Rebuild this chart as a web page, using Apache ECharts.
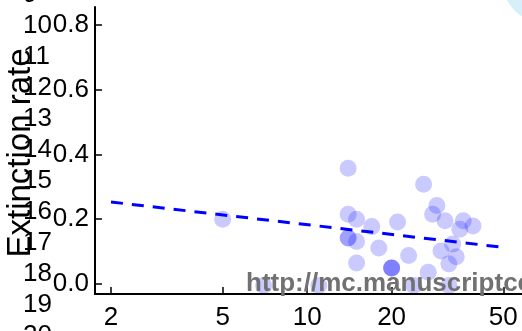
<!DOCTYPE html>
<html>
<head>
<meta charset="utf-8">
<script src="https://cdn.jsdelivr.net/npm/echarts@6/dist/echarts.min.js"></script>
<style>
  html, body { margin: 0; padding: 0; background: #fff; }
  #main { width: 522px; height: 331px; }
</style>
</head>
<body>
<div id="main"></div>
<script>
// points (x is plotted on a log scale)
const pointX = [5, 7, 11, 14, 14, 14, 14, 15, 15, 15, 17, 18, 20, 20, 20, 21, 23, 24, 26, 27, 28, 29, 30, 31, 32, 32, 33, 34, 35, 36, 39];
const pointY = [0.20, -0.005, -0.005, 0.357, 0.215, 0.142, 0.142, 0.20, 0.131, 0.065, 0.177, 0.111, 0.049, 0.049, 0.049, 0.191, 0.088, -0.005, 0.308, 0.036, 0.215, 0.242, 0.102, 0.195, 0.062, -0.005, 0.123, 0.084, 0.169, 0.195, 0.179];
// dashed regression line
const fitX = [2, 50];
const fitY = [0.253, 0.113];
// axes
const xTicks = [2, 5, 10, 20, 50];
const xRange = [1.754, 58.3];
const yTicks = [0, 0.2, 0.4, 0.6, 0.8];
const yRange = [-0.031, 0.855];
// manuscript line numbers in the margin
const lineNumbers = ['9', '10', '11', '12', '13', '14', '15', '16', '17', '18', '19', '20'];

const FONT = 'Liberation Sans';
const lg = v => Math.log10(v);

const chart = echarts.init(document.getElementById('main'));

const graphics = [
  { type: 'circle', shape: { cx: 545, cy: -20, r: 43 }, style: { fill: '#d6effb' }, z: 0 }
];
lineNumbers.forEach((t, i) => {
  graphics.push({
    type: 'text', x: 23, y: -5 + i * 31, z: 1,
    style: { text: t, font: '26px ' + FONT, fill: '#000', align: 'left', verticalAlign: 'middle' }
  });
});
graphics.push({
  type: 'text', x: 21, y: 153, rotation: Math.PI / 2, z: 2,
  style: { text: 'Extinction rate', font: '33px ' + FONT, fill: '#000', align: 'center', verticalAlign: 'middle' }
});
graphics.push({
  type: 'text', x: 246, y: 271, z: 100, zlevel: 1,
  style: { text: 'http://mc.manuscriptcentral.com', font: 'bold 26px ' + FONT, fill: '#717171' }
});

const option = {
  animation: false,
  grid: { left: 95, top: 7, right: 0, bottom: 36, containLabel: false },
  xAxis: {
    type: 'value',
    min: lg(xRange[0]), max: lg(xRange[1]),
    axisLine: { show: true, onZero: false, lineStyle: { color: '#000', width: 2 } },
    axisTick: { show: true, inside: true, length: 7, customValues: xTicks.map(lg), lineStyle: { color: '#000', width: 1.5 } },
    axisLabel: {
      customValues: xTicks.map(lg), margin: 11,
      formatter: v => String(Math.round(Math.pow(10, v))),
      color: '#000', fontSize: 26, fontFamily: FONT
    },
    splitLine: { show: false }
  },
  yAxis: {
    type: 'value',
    min: yRange[0], max: yRange[1],
    axisLine: { show: true, onZero: false, lineStyle: { color: '#000', width: 2 } },
    axisTick: { show: true, inside: true, length: 7, customValues: yTicks, lineStyle: { color: '#000', width: 1.5 } },
    axisLabel: {
      customValues: yTicks, margin: 6,
      formatter: v => v.toFixed(1),
      color: '#000', fontSize: 26, fontFamily: FONT
    },
    splitLine: { show: false }
  },
  graphic: graphics,
  series: [
    {
      type: 'scatter',
      symbolSize: 17,
      itemStyle: { color: 'rgba(0,0,255,0.26)' },
      data: pointX.map((x, i) => [lg(x), pointY[i]]),
      z: 2
    },
    {
      type: 'line',
      showSymbol: false,
      lineStyle: { color: '#0000ff', width: 3, type: [12, 9] },
      data: fitX.map((x, i) => [lg(x), fitY[i]]),
      z: 3
    }
  ]
};

chart.setOption(option);
</script>
</body>
</html>
